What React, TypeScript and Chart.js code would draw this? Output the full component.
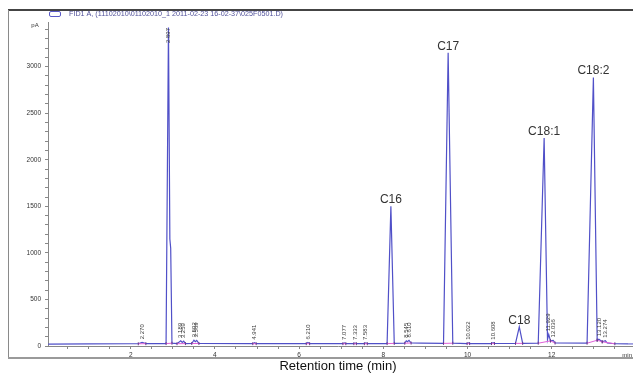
import React, { useEffect, useRef } from 'react';
import { Chart, registerables } from 'chart.js';

Chart.register(...registerables);

const FONT = '"Liberation Sans", Arial, sans-serif';

// Chromatogram trace: retention time (min) and detector signal (pA)
const retentionTimes = [
  0.04, 1.0, 2.0, 2.18, 2.27, 2.36, 2.84, 2.897, 2.93, 2.95, 2.98, 3.1, 3.189, 3.225, 3.259, 3.3,
  3.45, 3.502, 3.535, 3.569, 3.62, 4.9, 4.941, 4.98, 6.17, 6.21, 6.25, 7.04, 7.077, 7.11, 7.3,
  7.333, 7.36, 7.55, 7.583, 7.62, 8.09, 8.18, 8.26, 8.51, 8.545, 8.575, 8.61, 8.66, 8.9, 9.43,
  9.54, 9.65, 9.99, 10.022, 10.05, 10.57, 10.608, 10.64, 11.14, 11.23, 11.31, 11.68, 11.82, 11.9,
  11.929, 11.97, 12.036, 12.08, 12.84, 12.99, 13.08, 13.12, 13.2, 13.274, 13.32, 13.5, 13.93,
];
const signalPA = [
  20, 22, 24, 24, 40, 25, 26, 3420, 1150, 1050, 30, 25, 55, 38, 52, 26,
  27, 62, 46, 60, 27, 25, 36, 25, 25, 38, 25, 25, 33, 25, 25,
  31, 25, 25, 32, 25, 26, 1500, 28, 30, 56, 46, 60, 32, 30, 28,
  3150, 30, 26, 34, 26, 26, 36, 27, 28, 206, 28, 30, 2233, 70,
  125, 55, 60, 32, 30, 2885, 62, 72, 45, 56, 32, 24, 22,
];

// Integration baseline segments (start, end) in minutes
const integStart = [2.18, 2.84, 3.1, 3.45, 4.9, 6.17, 7.04, 7.3, 7.55, 8.09, 8.51, 9.43, 9.99, 10.57, 11.14, 11.68, 11.97, 12.84, 13.08, 13.2];
const integEnd = [2.36, 2.98, 3.3, 3.62, 4.98, 6.25, 7.11, 7.36, 7.62, 8.26, 8.66, 9.65, 10.05, 10.64, 11.31, 11.97, 12.08, 13.08, 13.2, 13.5];

// Retention-time annotations
const rtLabelTexts = ['2.270', '2.897', '3.189', '3.259', '3.502', '3.569', '4.941', '6.210', '7.077', '7.333', '7.583', '8.545', '8.610', '10.022', '10.608', '11.929', '12.036', '13.120', '13.274'];
const rtLabelTimes = [2.27, 2.897, 3.189, 3.259, 3.502, 3.569, 4.941, 6.21, 7.077, 7.333, 7.583, 8.545, 8.61, 10.022, 10.608, 11.929, 12.036, 13.12, 13.274];

// Named peaks
const peakNames = ['C16', 'C17', 'C18', 'C18:1', 'C18:2'];
const peakTimes = [8.18, 9.54, 11.23, 11.82, 12.99];

const legendText = 'FID1 A, (11102010\\01102010_1 2011-02-23 16-02-37\\025F0501.D)';
const xTitle = 'Retention time (min)';

function valueAt(t: number): number {
  let best = 0;
  for (let i = 0; i < retentionTimes.length; i++) {
    if (Math.abs(retentionTimes[i] - t) < Math.abs(retentionTimes[best] - t)) best = i;
  }
  return signalPA[best];
}

const tracePoints = retentionTimes.map((t, i) => ({ x: t, y: signalPA[i] }));
const integPoints: { x: number; y: number | null }[] = [];
integStart.forEach((s, i) => {
  integPoints.push({ x: s, y: valueAt(s) });
  integPoints.push({ x: integEnd[i], y: valueAt(integEnd[i]) });
  integPoints.push({ x: integEnd[i] + 0.0005, y: null });
});

const decorPlugin = {
  id: 'decor',
  beforeDraw(chart: any) {
    const { ctx } = chart;
    ctx.save();
    ctx.fillStyle = '#ffffff';
    ctx.fillRect(0, 0, chart.width, chart.height);
    // frame
    ctx.strokeStyle = '#444';
    ctx.lineWidth = 2;
    ctx.beginPath();
    ctx.moveTo(8, 10);
    ctx.lineTo(chart.width, 10);
    ctx.stroke();
    ctx.strokeStyle = '#8a8a8a';
    ctx.lineWidth = 1;
    ctx.beginPath();
    ctx.moveTo(8.5, 10);
    ctx.lineTo(8.5, 358);
    ctx.stroke();
    ctx.strokeStyle = '#9a9a9a';
    ctx.lineWidth = 2;
    ctx.beginPath();
    ctx.moveTo(8, 358);
    ctx.lineTo(chart.width, 358);
    ctx.stroke();
    // legend
    ctx.strokeStyle = '#5a5ac8';
    ctx.lineWidth = 1;
    ctx.beginPath();
    (ctx as any).roundRect ? (ctx as any).roundRect(49.5, 11.5, 11, 5, 1.5) : ctx.rect(49.5, 11.5, 11, 5);
    ctx.stroke();
    ctx.fillStyle = '#50509a';
    ctx.font = `7.2px ${FONT}`;
    ctx.textBaseline = 'middle';
    ctx.textAlign = 'left';
    ctx.fillText(legendText, 69, 14.5, 214);
    // pA and min
    ctx.fillStyle = '#333';
    ctx.font = `6px ${FONT}`;
    ctx.textAlign = 'center';
    ctx.fillText('pA', 35, 25);
    ctx.textAlign = 'right';
    ctx.fillText('min', 632, 355);
    ctx.restore();
  },
  afterDatasetsDraw(chart: any) {
    const { ctx, chartArea } = chart;
    const xs = chart.scales.x;
    const ys = chart.scales.y;
    ctx.save();
    // continue the axis line and trace to the picture's right edge
    ctx.strokeStyle = '#888';
    ctx.lineWidth = 1;
    ctx.beginPath();
    ctx.moveTo(chartArea.right, chartArea.bottom + 0.5);
    ctx.lineTo(chart.width, chartArea.bottom + 0.5);
    ctx.stroke();
    ctx.strokeStyle = '#5050c8';
    ctx.beginPath();
    const yb = ys.getPixelForValue(signalPA[signalPA.length - 1]);
    ctx.moveTo(chartArea.right, yb);
    ctx.lineTo(chart.width, yb);
    ctx.stroke();

    ctx.font = `6px ${FONT}`;
    ctx.fillStyle = '#3a3a3a';
    rtLabelTexts.forEach((text, i) => {
      const t = rtLabelTimes[i];
      const px = xs.getPixelForValue(t);
      const w = ctx.measureText(text).width;
      let py = ys.getPixelForValue(valueAt(t)) - 3;
      py = Math.max(py, chartArea.top + 6 + w);
      ctx.save();
      ctx.translate(px, py);
      ctx.rotate(-Math.PI / 2);
      ctx.textAlign = 'left';
      ctx.textBaseline = 'middle';
      ctx.fillText(text, 0, 0);
      ctx.restore();
    });
    ctx.font = `12px ${FONT}`;
    ctx.fillStyle = '#333';
    ctx.textAlign = 'center';
    ctx.textBaseline = 'alphabetic';
    peakNames.forEach((name, i) => {
      const t = peakTimes[i];
      const px = xs.getPixelForValue(t);
      const py = ys.getPixelForValue(valueAt(t)) - 3;
      ctx.fillText(name, px, py);
    });
    ctx.restore();
  },
};

export default function App() {
  const ref = useRef<HTMLCanvasElement>(null);
  useEffect(() => {
    document.body.style.overflow = 'hidden';
    const canvas = ref.current as HTMLCanvasElement;
    const chart = new Chart(canvas, {
      type: 'line',
      data: {
        datasets: [
          {
            data: tracePoints as any,
            borderColor: '#5050c8',
            borderWidth: 1.2,
            pointRadius: 0,
            tension: 0,
            order: 2,
          },
          {
            data: integPoints as any,
            borderColor: '#e060d8',
            borderWidth: 1,
            pointRadius: 1.5,
            pointStyle: 'line',
            rotation: 90,
            pointBorderColor: '#6a3a8a',
            pointBorderWidth: 1,
            spanGaps: false,
            tension: 0,
            order: 1,
          },
        ],
      },
      options: {
        responsive: false,
        animation: false,
        devicePixelRatio: 1,
        layout: { padding: { left: 8, top: 22, right: 0, bottom: 0 } },
        plugins: { legend: { display: false }, tooltip: { enabled: false } },
        scales: {
          x: {
            type: 'linear',
            min: 0.0356,
            max: 13.812,
            afterFit: (s: any) => {
              s.height = 27;
            },
            border: { color: '#888', width: 1 },
            grid: { drawOnChartArea: false, color: '#888', tickLength: 3 },
            ticks: {
              stepSize: 0.5,
              includeBounds: false,
              autoSkip: false,
              maxRotation: 0,
              minRotation: 0,
              padding: 2,
              color: '#333',
              font: { family: FONT, size: 6.5 },
              callback: (v: any) => (Number(v) > 0 && Number(v) % 2 === 0 ? String(v) : ''),
            },
            title: {
              display: true,
              text: xTitle,
              color: '#111',
              font: { family: FONT, size: 13, lineHeight: 1 },
              padding: 0,
            },
          },
          y: {
            type: 'linear',
            min: 0,
            max: 3480,
            afterFit: (s: any) => {
              s.width = 40;
            },
            border: { color: '#888', width: 1 },
            grid: { drawOnChartArea: false, color: '#888', tickLength: 3 },
            ticks: {
              stepSize: 100,
              includeBounds: false,
              autoSkip: false,
              padding: 4,
              color: '#333',
              font: { family: FONT, size: 6.5 },
              callback: (v: any) => (Number(v) % 500 === 0 ? String(v) : ''),
            },
          },
        },
      } as any,
      plugins: [decorPlugin],
    });
    return () => chart.destroy();
  }, []);
  return (
    <div style={{ position: 'fixed', left: 0, top: 0, width: 633, height: 373, background: '#fff' }}>
      <canvas ref={ref} width={633} height={373} style={{ display: 'block', width: 633, height: 373 }} />
    </div>
  );
}
